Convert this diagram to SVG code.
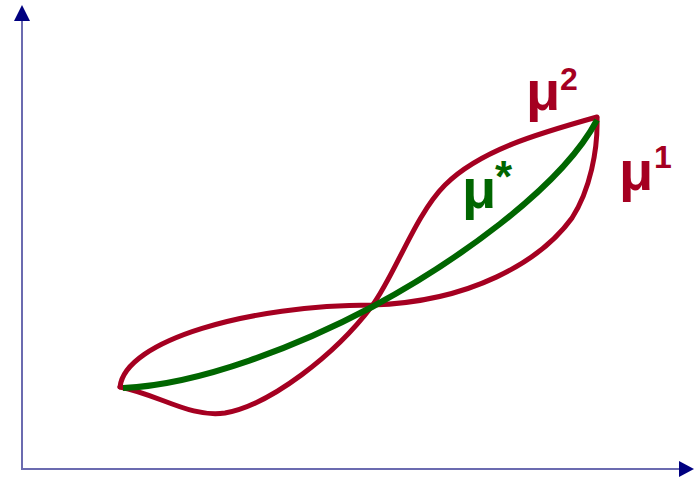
<svg xmlns="http://www.w3.org/2000/svg" width="695" height="481" viewBox="0 0 695 481">
<style>
.axis{stroke:#6b6bb0;stroke-width:2;fill:none}
.head{fill:#000080;stroke:none}
.red{stroke:#a50021;stroke-width:5;fill:none;stroke-linecap:round;stroke-linejoin:round}
.green{stroke:#006600;stroke-width:6;fill:none;stroke-linecap:butt}
.lr{fill:#a50021;font-family:"Liberation Sans",Arial,sans-serif;font-weight:bold}
.lg{fill:#006600;font-family:"Liberation Sans",Arial,sans-serif;font-weight:bold}
</style>
<g id="axes">
<line class="axis" x1="22" y1="470" x2="22" y2="20"/>
<polygon class="head" points="22,5 14,21 30,21"/>
<line class="axis" x1="22" y1="469" x2="680" y2="469"/>
<polygon class="head" points="694,469 679,461 679,477"/>
</g>
<g id="connectors">
<path id="mu1" class="red" d="M120,387 C125,340 250,305 372,305 C470,302 540,262 572,218 C590,190 598,150 597,118"/>
<path id="mu2" class="red" d="M120,387 C160,395 190,418 225,413 C270,405 335,355 372,306 C395,275 415,215 445,185 C480,150 540,133 597,117"/>
<path id="mustar" class="green" d="M123,388 C200,385 300,345 372,307 C450,265 560,190 597,120"/>
</g>
<g id="label-mu2">
<text class="lr" x="526" y="110" font-size="56">μ</text>
<text class="lr" x="560" y="90" font-size="32">2</text>
</g>
<g id="label-mu1">
<text class="lr" x="619" y="190" font-size="56">μ</text>
<text class="lr" x="654" y="168" font-size="32">1</text>
</g>
<g id="label-mustar">
<text class="lg" x="462" y="208" font-size="56">μ</text>
<text class="lg" x="495" y="192" font-size="44">*</text>
</g>
</svg>
